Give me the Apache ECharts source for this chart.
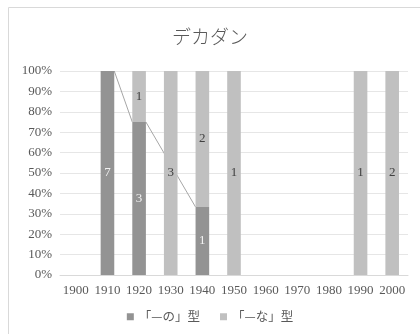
<!DOCTYPE html>
<html><head><meta charset="utf-8">
<script src="https://cdn.jsdelivr.net/npm/echarts@6/dist/echarts.min.js"></script>
<style>html,body{margin:0;padding:0;background:#fff}#c{width:420px;height:334px}</style>
</head><body><div id="c"></div>
<script>
const categories = ['1900','1910','1920','1930','1940','1950','1960','1970','1980','1990','2000'];
const seriesNames = ['「—の」型','「—な」型'];
const noCounts = [null,7,3,null,1,null,null,null,null,null,null];
const naCounts = [null,0,1,3,2,1,null,null,null,1,2];
const yTicks = [0,10,20,30,40,50,60,70,80,90,100];

const totals = categories.map((c,i)=>(noCounts[i]||0)+(naCounts[i]||0));
const pct = (arr)=>arr.map((v,i)=> v==null||totals[i]===0 ? null : v/totals[i]*100);
const noPct = pct(noCounts), naPct = pct(naCounts);

// series line segments between consecutive bars having a 「—の」 value
const idx = noCounts.map((v,i)=>v!=null?i:-1).filter(i=>i>=0);
const segs = [];
for (let k=0;k<idx.length-1;k++) segs.push([idx[k], idx[k+1]]);

const serif = '"Liberation Serif","DejaVu Serif",serif';
const chart = echarts.init(document.getElementById('c'), null, {renderer:'canvas'});
const BW = 0.43;
chart.setOption({
  animation:false,
  title:{text:'デカダン',left:'center',top:22,textStyle:{fontFamily:'"Noto Sans CJK JP"',fontSize:19,fontWeight:300,color:'#595959'}},
  grid:{left:60,right:12,top:71,bottom:59},
  legend:{bottom:6,left:'center',itemWidth:7,itemHeight:7,itemGap:20,icon:'rect',
    textStyle:{fontFamily:'"Noto Sans CJK JP"',fontSize:12.5,color:'#595959'},data:seriesNames},
  xAxis:{type:'category',data:categories,axisTick:{show:false},
    axisLine:{lineStyle:{color:'#d9d9d9'}},
    axisLabel:{fontFamily:serif,fontSize:13,color:'#595959',margin:9,interval:0}},
  yAxis:{type:'value',min:0,max:100,interval:10,
    axisLabel:{fontFamily:serif,fontSize:13,color:'#595959',margin:8,formatter:v=>v+'%'},
    splitLine:{lineStyle:{color:'#e6e6e6'}},axisLine:{show:false},axisTick:{show:false}},
  graphic:[{type:'rect',shape:{x:8.5,y:7.5,width:420,height:340},style:{fill:'none',stroke:'#d9d9d9',lineWidth:1},silent:true}],
  series:[
    {type:'custom',name:'sl',z:1,silent:true,data:segs,
      renderItem:(params,api)=>{
        const a=api.value(0), b=api.value(1);
        const band=api.size([1,0])[0];
        const p1=api.coord([a,noPct[a]]), p2=api.coord([b,noPct[b]]);
        return {type:'line',shape:{x1:p1[0]+band*BW/2,y1:p1[1],x2:p2[0]-band*BW/2,y2:p2[1]},
          style:{stroke:'#a6a6a6',lineWidth:1}};
      }},
    {type:'bar',name:seriesNames[0],stack:'s',barWidth:'43%',z:3,
      itemStyle:{color:'#939393'},
      data:noPct.map((v,i)=>({value:v,cnt:noCounts[i]})),
      label:{show:true,position:'inside',fontFamily:serif,fontSize:13,color:'#f2f2f2',
        formatter:p=>p.data.cnt?String(p.data.cnt):''}},
    {type:'bar',name:seriesNames[1],stack:'s',barWidth:'43%',z:3,
      itemStyle:{color:'#c0c0c0'},
      data:naPct.map((v,i)=>({value:v,cnt:naCounts[i]})),
      label:{show:true,position:'inside',fontFamily:serif,fontSize:13,color:'#404040',
        formatter:p=>p.data.cnt?String(p.data.cnt):''}}
  ]
});
</script></body></html>
